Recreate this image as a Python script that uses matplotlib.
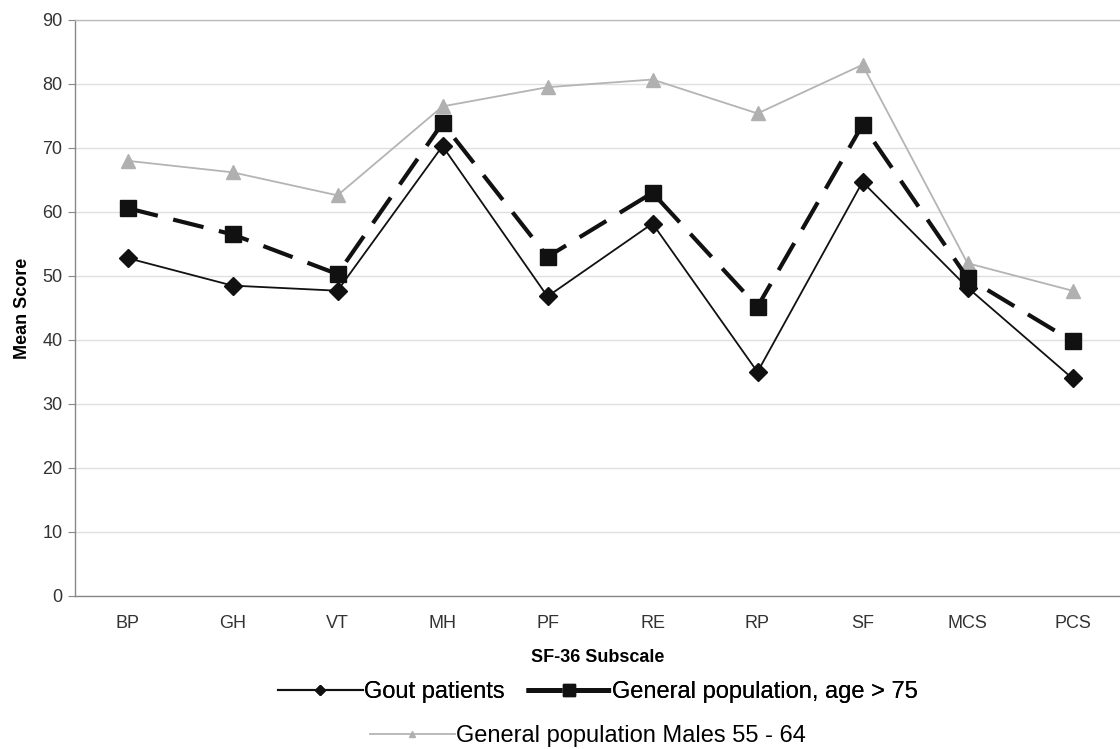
import matplotlib
matplotlib.use("Agg")
import matplotlib.pyplot as plt
from matplotlib.lines import Line2D

plt.rcParams['font.family'] = ['Liberation Sans', 'DejaVu Sans']

categories = ["BP", "GH", "VT", "MH", "PF", "RE", "RP", "SF", "MCS", "PCS"]
gout = [52.8, 48.5, 47.7, 70.3, 46.8, 58.2, 35.0, 64.7, 48.2, 34.0]
gen_75 = [60.6, 56.5, 50.3, 73.9, 53.0, 63.0, 45.2, 73.6, 49.7, 39.8]
males_55_64 = [68.0, 66.2, 62.6, 76.5, 79.5, 80.7, 75.4, 83.0, 52.0, 47.7]
yticks = list(range(0, 91, 10))

W, H = 1120, 749
fig = plt.figure(figsize=(W / 100, H / 100), dpi=100)
fig.patch.set_facecolor('white')
left, right, top, bottom = 75, 1125, 20, 596
ax = fig.add_axes([left / W, 1 - bottom / H, (right - left) / W, (bottom - top) / H])

x = list(range(len(categories)))
ax.plot(x, males_55_64, color='#b4b4b4', lw=1.3, marker='^', ms=9.5,
        mfc='#b0b0b0', mec='#b0b0b0', zorder=3, label='General population Males 55 - 64')
ax.plot(x, gen_75, color='#111111', lw=3.0, ls=(0, (7.5, 3.8)), marker='s', ms=11,
        mfc='#111111', mec='#111111', zorder=4, label='General population, age > 75')
ax.plot(x, gout, color='#111111', lw=1.3, marker='D', ms=9,
        mfc='#111111', mec='#111111', zorder=5, label='Gout patients')

ax.set_xlim(-0.5, 9.5)
ax.set_ylim(0, 90)
ax.set_yticks(yticks)
ax.set_xticks(x)
ax.set_xticklabels(categories)
ax.grid(axis='y', color='#e0e0e0', lw=1.0)
ax.set_axisbelow(True)
for s in ['left', 'bottom', 'top']:
    ax.spines[s].set_color('#888888')
    ax.spines[s].set_linewidth(1.0)
ax.spines['top'].set_color('#bbbbbb')
ax.spines['right'].set_visible(False)
ax.tick_params(axis='y', length=5, color='#888888', labelsize=13, labelcolor='#333333', pad=4)
ax.tick_params(axis='x', length=0, labelsize=13, labelcolor='#333333', pad=14)

ax.set_ylabel('Mean Score', fontsize=13, fontweight='bold', labelpad=8)
fig.text(598 / W, 1 - 657 / H, 'SF-36 Subscale',
         fontsize=13, fontweight='bold', ha='center', va='center')

h_gout = Line2D([], [], color='#111111', lw=1.5, marker='D', ms=5, mfc='#111111')
h_75 = Line2D([], [], color='#111111', lw=3.5, ls=(0, (7.4, 2.6)), marker='s', ms=8, mfc='#111111')
h_m = Line2D([], [], color='#b4b4b4', lw=1.3, marker='^', ms=5, mfc='#b0b0b0', mec='#b0b0b0')

leg1 = fig.legend([h_gout, h_75], ['Gout patients', 'General population, age > 75'],
                  loc='center', bbox_to_anchor=(598 / W, 1 - 692 / H), ncol=2,
                  frameon=False, fontsize=17, handlelength=3.6, handletextpad=0.05,
                  columnspacing=0.9)
leg2 = fig.legend([h_m], ['General population Males 55 - 64'],
                  loc='center', bbox_to_anchor=(588 / W, 1 - 736 / H),
                  frameon=False, fontsize=17, handlelength=3.6, handletextpad=0.05)
fig.add_artist(leg1)

fig.savefig('out.png', dpi=100)
